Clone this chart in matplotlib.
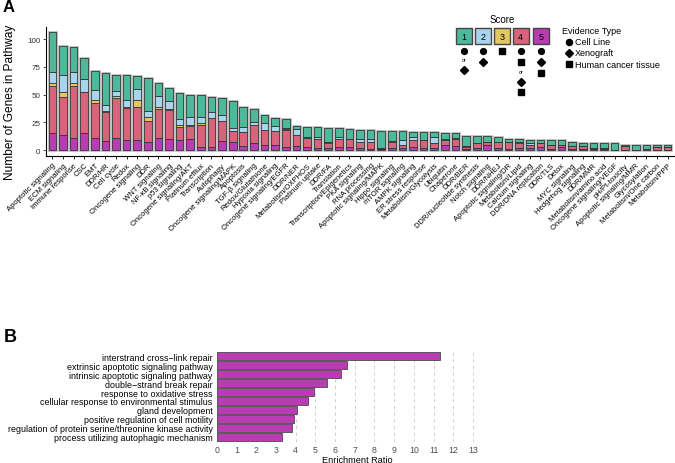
import numpy as np
import matplotlib as mpl
mpl.use('Agg')
import matplotlib.pyplot as plt
from matplotlib.patches import Rectangle

mpl.rcParams['font.family'] = ['Liberation Sans', 'DejaVu Sans']

# ---- panel A data: genes per pathway, split by evidence score ----
pathways = ['Apoptotic signaling', 'ECM signaling', 'Immune response', 'CSC', 'EMT',
            'DDR/HR', 'Cell cycle', 'Redox', 'Oncogene signaling', 'DDR',
            'WNT signaling', 'NF-κB signaling', 'p53 signaling', 'Oncogene signaling/AKT',
            'Platinum efflux', 'Transcription', 'Autophagy', 'Oncogene signaling/MAPK',
            'Apoptosis', 'TGF-β signaling', 'Redox/Glutathione', 'Hypoxia signaling',
            'Oncogene signaling/EGFR', 'DDR/NER', 'Metabolism/OXPHOS', 'Platinum uptake',
            'DDR/FA', 'Translation', 'Transcription/Epigenetics', 'PKA signaling',
            'RNA processing', 'Apoptotic signaling/MAPK', 'Hippo signaling', 'mTOR signaling',
            'AMPK signaling', 'ER stress response', 'Metabolism/Glycolysis', 'Ubiquitin',
            'Chaperone', 'DDR/BER', 'DDR/nucleotide synthesis', 'Notch signaling',
            'DDR/NHEJ', 'Apoptotic signaling/DR', 'Metabolism/Lipid', 'Calcium signaling',
            'DDR/DNA replication', 'DDR/TLS', 'Detox', 'MYC signaling', 'Hedgehog signaling',
            'DDR/MMR', 'Metabolism/amino acid', 'Oncogene signaling/VEGF', 'pH/Pt-toxicity',
            'Apoptotic signaling/MMR', 'Glycosylation', 'Metabolism/One carbon', 'Metabolism/PPP']

score5 = [15, 14, 11, 15, 11, 8, 11, 9, 9, 7, 11, 10, 9, 10, 3, 3, 8, 7, 4, 6,
          5, 5, 3, 4, 3, 2, 2, 3, 3, 2, 1, 1, 2, 2, 3, 2, 2, 5, 4, 1,
          2, 5, 2, 1, 2, 2, 3, 1, 3, 1, 1, 1, 1, 0, 0, 0, 1, 0, 0]
score4 = [43, 34, 47, 37, 31, 26, 36, 29, 30, 19, 26, 26, 12, 12, 20, 26, 18, 10, 12, 17,
          13, 12, 15, 10, 8, 8, 4, 7, 7, 5, 6, 1, 5, 3, 6, 7, 4, 4, 6, 2,
          4, 2, 5, 6, 4, 3, 3, 4, 2, 3, 3, 1, 1, 0, 4, 0, 0, 3, 3]
score3 = [2, 4, 2, 0, 3, 1, 2, 1, 6, 4, 2, 1, 2, 1, 1, 0, 0, 0, 0, 0,
          0, 0, 1, 0, 0, 0, 1, 0, 0, 0, 0, 0, 1, 0, 0, 0, 0, 0, 0, 1,
          0, 0, 0, 0, 1, 0, 0, 0, 0, 0, 0, 0, 0, 0, 0, 0, 0, 0, 0]
score2 = [10, 16, 10, 12, 9, 6, 4, 6, 10, 5, 10, 7, 5, 7, 6, 5, 6, 3, 5, 2,
          6, 5, 1, 5, 1, 2, 0, 2, 0, 3, 3, 0, 0, 4, 3, 0, 6, 1, 1, 0,
          0, 0, 0, 0, 0, 1, 0, 0, 0, 0, 0, 0, 0, 0, 0, 0, 0, 0, 0]
score1 = [36, 26, 23, 19, 17, 28, 15, 23, 12, 30, 11, 12, 23, 20, 20, 14, 15, 24, 18, 12,
          8, 7, 8, 3, 9, 9, 13, 8, 9, 8, 8, 15, 9, 8, 4, 7, 4, 5, 4, 9,
          7, 6, 5, 3, 3, 3, 3, 4, 4, 3, 2, 4, 4, 6, 1, 5, 4, 2, 2]

score_colors = ['#4db99b', '#a8d4ee', '#e3c862', '#d8637a', '#b93cb5']  # score 1..5

# ---- panel B data: GO enrichment ----
go_terms = ['interstrand cross\u2212link repair', 'extrinsic apoptotic signaling pathway',
            'intrinsic apoptotic signaling pathway', 'double\u2212strand break repair',
            'response to oxidative stress', 'cellular response to environmental stimulus',
            'gland development', 'positive regulation of cell motility',
            'regulation of protein serine/threonine kinase activity',
            'process utilizing autophagic mechanism']
enrichment = [11.3, 6.6, 6.3, 5.6, 4.93, 4.63, 4.07, 3.94, 3.82, 3.3]

W, H = 675, 464
fig = plt.figure(figsize=(W / 100, H / 100), dpi=100)

# ================= panel A =================
axA = fig.add_axes([46 / W, 1 - 157 / H, 628 / W, 129.5 / H])
x = np.arange(len(pathways))
stack = [score5, score4, score3, score2, score1]
cols = [score_colors[4], score_colors[3], score_colors[2], score_colors[1], score_colors[0]]
total = np.sum(np.array(stack), axis=0)
bw = 0.72
axA.bar(x, total, width=bw, color='none', edgecolor='#b0b0b0', linewidth=1.8, zorder=1)
bottom = np.zeros(len(pathways))
for vals, c in zip(stack, cols):
    vals = np.array(vals, dtype=float)
    axA.bar(x, vals, bottom=bottom, width=bw, color=c, edgecolor='#2e2e2e',
            linewidth=0.55, zorder=2)
    bottom += vals
axA.set_xlim(-0.6, len(pathways) - 0.4)
axA.set_ylim(-5.3, 111.3)
axA.set_yticks([0, 25, 50, 75, 100])
axA.tick_params(axis='y', labelsize=5.8, length=2.5, width=0.6, pad=1.5, colors='#333333')
axA.set_xticks(x)
axA.set_xticklabels(pathways, rotation=45, ha='right', rotation_mode='anchor',
                    fontsize=5.5)
axA.tick_params(axis='x', length=2.5, width=0.6, pad=1.5)
for s in ['top', 'right']:
    axA.spines[s].set_visible(False)
for s in ['left', 'bottom']:
    axA.spines[s].set_linewidth(0.8)
axA.set_ylabel('Number of Genes in Pathway', fontsize=8.6, labelpad=2)
axA.yaxis.set_label_coords(-0.047, 0.42)
fig.text(3 / W, 1 - 8 / H, 'A', fontsize=12, fontweight='bold', va='center')

# ---- legend overlay ----
lax = fig.add_axes([0, 0, 1, 1], facecolor='none')
lax.set_xlim(0, W)
lax.set_ylim(H, 0)
lax.axis('off')
lax.text(502, 20, 'Score', fontsize=7, ha='center', va='center')
box_x = [456, 475, 494, 513, 533]
for i, bx in enumerate(box_x):
    lax.add_patch(Rectangle((bx, 29), 15.5, 16, facecolor=score_colors[i],
                            edgecolor='#444444', linewidth=1.0))
    lax.text(bx + 7.75, 37.5, str(i + 1), fontsize=6.5, ha='center', va='center')
mk = dict(color='black', linestyle='none', markersize=4.2)
cx = [b + 7.75 for b in box_x]
lax.plot(cx[0], 52, marker='o', **mk)
lax.text(cx[0], 61, 'or', fontsize=3.8, ha='center', va='center')
lax.plot(cx[0], 71, marker='D', markersize=3.6, color='black', linestyle='none')
lax.plot(cx[1], 52, marker='o', **mk)
lax.plot(cx[1], 63, marker='D', markersize=3.6, color='black', linestyle='none')
lax.plot(cx[2], 52, marker='s', markersize=3.8, color='black', linestyle='none')
lax.plot(cx[3], 52, marker='o', **mk)
lax.plot(cx[3], 63, marker='s', markersize=3.8, color='black', linestyle='none')
lax.text(cx[3], 72, 'or', fontsize=3.8, ha='center', va='center')
lax.plot(cx[3], 83, marker='D', markersize=3.6, color='black', linestyle='none')
lax.plot(cx[3], 93, marker='s', markersize=3.8, color='black', linestyle='none')
lax.plot(cx[4], 52, marker='o', **mk)
lax.plot(cx[4], 63, marker='D', markersize=3.6, color='black', linestyle='none')
lax.plot(cx[4], 74, marker='s', markersize=3.8, color='black', linestyle='none')

lax.text(562, 31.5, 'Evidence Type', fontsize=6.5, ha='left', va='center')
ev_items = [('o', 'Cell Line', 42.5), ('D', 'Xenograft', 53.5), ('s', 'Human cancer tissue', 65)]
for m, lab, yy in ev_items:
    lax.plot(568.5, yy, marker=m, color='black', linestyle='none',
             markersize=4.4 if m == 'o' else 3.9)
    lax.text(575, yy, lab, fontsize=6.5, ha='left', va='center')

# ================= panel B =================
axB = fig.add_axes([216.7 / W, 1 - 443 / H, 282 / W, 91 / H])
yB = np.arange(len(go_terms))[::-1]
for t in range(0, 14):
    axB.axvline(t, color='#c8c8c8', linewidth=0.6, linestyle=(0, (4, 4)), zorder=0)
axB.barh(yB, enrichment, height=0.88, color='#b93cb5', edgecolor='#4a4a4a',
         linewidth=0.6, zorder=2)
axB.set_xlim(0, 14.3)
axB.set_ylim(-0.6, len(go_terms) - 0.4)
axB.set_yticks(yB)
axB.set_yticklabels(go_terms, fontsize=6.4)
axB.set_xticks(range(0, 14))
axB.tick_params(axis='x', length=0, labelsize=6.3, pad=2, labelcolor='#4d4d4d')
axB.tick_params(axis='y', length=0, pad=3)
for s in axB.spines.values():
    s.set_visible(False)
axB.set_xlabel('Enrichment Ratio', fontsize=6.6, labelpad=1)
fig.text(4 / W, 1 - 337 / H, 'B', fontsize=13, fontweight='bold', va='center')

fig.savefig('out.png', dpi=100)
